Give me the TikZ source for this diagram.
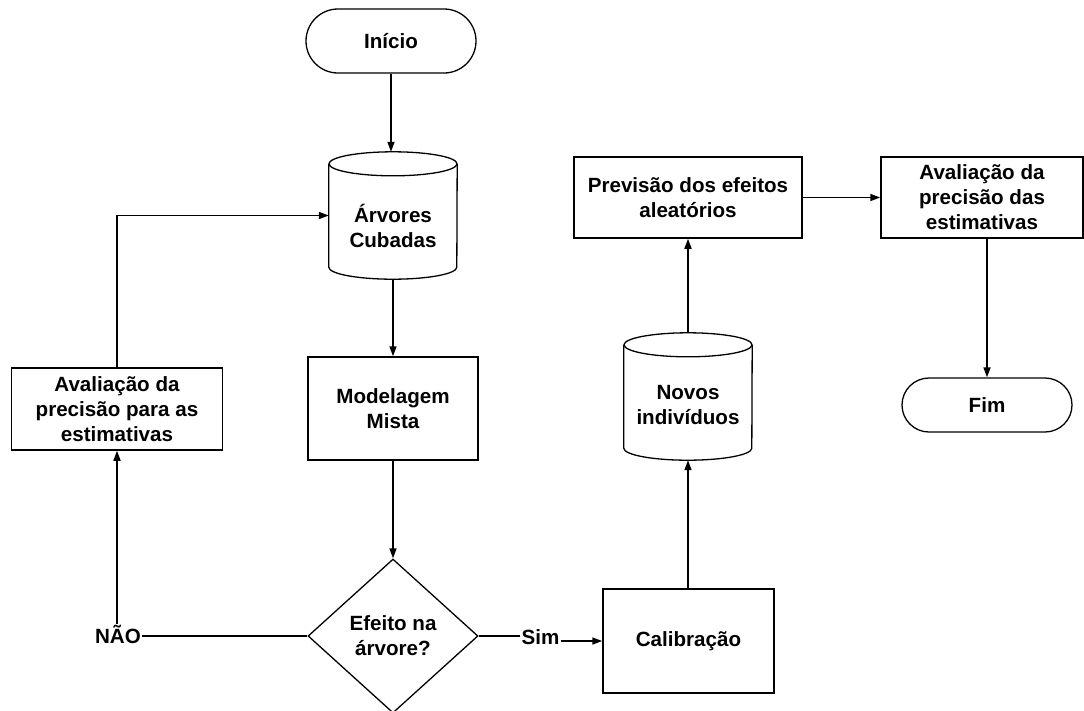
\documentclass[tikz,border=0pt]{standalone}
\usepackage{fontspec}
\setmainfont{Liberation Sans}
\usetikzlibrary{arrows.meta,shapes.geometric,shapes.misc}
\newcommand\mycyl[1]{%
  \draw[line width=1.3pt] ([yshift=-12pt]#1.north west) -- ([yshift=12pt]#1.south west)
    arc[start angle=180, end angle=360, x radius=64pt, y radius=12pt]
    -- ([yshift=-12pt]#1.north east);
  \draw[line width=1.3pt] ([yshift=-12pt]#1.north) ellipse[x radius=64pt, y radius=12pt];}
\begin{document}
\begin{tikzpicture}[x=1pt,y=-1pt,
  every node/.style={font=\bfseries\fontsize{20.6}{25}\selectfont, align=center, inner sep=0pt},
  box/.style={draw, line width=1.5pt, rectangle},
  term/.style={draw, line width=1.3pt, rounded rectangle},
  cylframe/.style={rectangle, minimum width=128pt, minimum height=127pt},
  decision/.style={draw, diamond, line width=1.3pt},
  conn/.style={line width=1.6pt},
  arr/.style={conn, -{Triangle[length=10pt,width=7pt]}},
  lab/.style={inner sep=1pt}
]
\useasboundingbox (0,0) rectangle (1084,710);

\node[term, minimum width=170pt, minimum height=64pt] (ini) at (391,41) {Início};

\node[cylframe] (arv) at (393,215.5) {};
\mycyl{arv}
\node (arvt) at ([yshift=-10pt]arv.center) {Árvores\\Cubadas};

\node[box, minimum width=170pt, minimum height=103pt] (mod) at (393,408.5) {Modelagem\\Mista};

\node[decision, minimum width=170pt, minimum height=154pt] (dec) at (393,636) {Efeito na\\árvore?};

\node[box, minimum width=211pt, minimum height=82pt] (aval1) at (117,409) {Avaliação da\\precisão para as\\estimativas};

\node[lab] (nao) at (118,634) {NÃO};
\node[lab] (sim) at (540.5,637) {Sim};

\node[box, minimum width=171pt, minimum height=104pt] (cal) at (688.5,641) {Calibração};

\node[cylframe] (nov) at (688,396.5) {};
\mycyl{nov}
\node (novt) at ([yshift=-9pt]nov.center) {Novos\\indivíduos};

\node[box, minimum width=228pt, minimum height=81pt] (prev) at (688,197.5) {Previsão dos efeitos\\aleatórios};

\node[box, minimum width=202pt, minimum height=81pt] (aval2) at (982,197.5) {Avaliação da\\precisão das\\estimativas};

\node[term, minimum width=170pt, minimum height=54pt] (fim) at (987,405) {Fim};

\draw[arr] (ini.south) -- (ini.south |- arv.north);
\draw[arr] (arv.south) -- (arv.south |- mod.north);
\draw[arr] (mod.south) -- (mod.south |- dec.north);
\draw[conn] (dec.west) -- (dec.west -| nao.east);
\draw[arr] (aval1.south |- nao.north) -- (aval1.south);
\draw[arr] (aval1.north) |- (arv.west);
\draw[conn] (dec.east) -- (dec.east -| sim.west);
\draw[arr] (sim.east |- cal.west) -- (cal.west);
\draw[arr] (cal.north -| nov.south) -- (nov.south);
\draw[arr] (nov.north) -- (nov.north |- prev.south);
\draw[arr] (prev.east) -- (aval2.west);
\draw[arr] (aval2.south -| fim.north) -- (fim.north);
\end{tikzpicture}
\end{document}
